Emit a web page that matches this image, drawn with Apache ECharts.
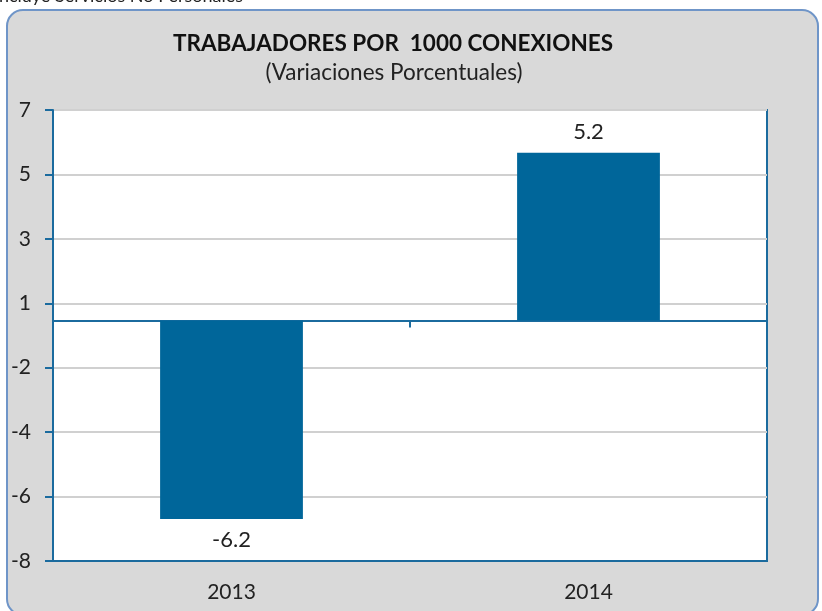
<!DOCTYPE html>
<html>
<head>
<meta charset="utf-8">
<script src="https://cdn.jsdelivr.net/npm/echarts@6/dist/echarts.min.js"></script>
<style>
html,body{margin:0;padding:0;background:#ffffff;}
#chart{width:822px;height:611px;}
</style>
</head>
<body>
<div id="chart"></div>
<script>
// ---- data ----
const categories = ['2013', '2014'];
const values = [-6.6, 5.58];
const dataLabels = ['-6.2', '5.2'];
const yMin = -8;
const yMax = 7;
const yTickCount = 7; // number of intervals
const titleText = 'TRABAJADORES POR  1000 CONEXIONES';
const subtitleText = '(Variaciones Porcentuales)';
const noteText = 'Incluye Servicios No Personales';

const FONT = 'Lato';
const BLUE = '#1b6b9e';
const BAR = '#00669a';

const chart = echarts.init(document.getElementById('chart'), null, {renderer: 'canvas'});

const option = {
  animation: false,
  backgroundColor: '#ffffff',
  textStyle: {fontFamily: FONT},
  graphic: [
    {
      type: 'rect', z: -10, silent: true,
      shape: {x: 7, y: 10, width: 811, height: 605, r: 16},
      style: {fill: '#d9d9d9', stroke: '#6f95c8', lineWidth: 2}
    },
    {
      type: 'text', z: 10, silent: true, x: -6, y: 5,
      style: {text: noteText, font: '18px ' + FONT, fill: '#222', textVerticalAlign: 'bottom'}
    },
    {
      type: 'text', z: 10, silent: true, x: 393, y: 44,
      style: {text: titleText, font: 'bold 22.5px ' + FONT, fill: '#111', align: 'center', verticalAlign: 'middle'}
    },
    {
      type: 'text', z: 10, silent: true, x: 394, y: 73,
      style: {text: subtitleText, font: '22.5px ' + FONT, fill: '#222', align: 'center', verticalAlign: 'middle'}
    }
  ],
  grid: {
    left: 53, top: 110, right: 55, bottom: 50,
    show: true, backgroundColor: '#ffffff', borderColor: BLUE, borderWidth: 2
  },
  xAxis: [
    {
      type: 'category', data: categories, position: 'bottom',
      axisLine: {show: false, onZero: false},
      axisTick: {show: false},
      axisLabel: {fontSize: 21, color: '#222', margin: 21, fontFamily: FONT}
    },
    {
      type: 'category', data: categories, position: 'top',
      axisLine: {show: true, onZero: true, lineStyle: {color: BLUE, width: 2}},
      axisTick: {show: true, inside: true, length: 7, lineStyle: {color: BLUE, width: 2}},
      axisLabel: {show: false}
    }
  ],
  yAxis: {
    type: 'value', min: yMin, max: yMax, interval: (yMax - yMin) / yTickCount,
    axisLine: {show: true, lineStyle: {color: BLUE, width: 2}},
    axisTick: {show: true, length: 8, lineStyle: {color: BLUE, width: 2}},
    axisLabel: {
      fontSize: 21, color: '#222', margin: 22, fontFamily: FONT,
      formatter: v => String(Math.round(v))
    },
    splitLine: {show: true, showMinLine: false, showMaxLine: false, lineStyle: {color: '#d0d0d0', width: 2}}
  },
  series: [{
    type: 'bar', xAxisIndex: 0, barWidth: '40%',
    itemStyle: {color: BAR},
    data: values.map((v, i) => ({
      value: v,
      label: {position: v >= 0 ? 'top' : 'bottom'}
    })),
    label: {
      show: true, distance: 10, fontSize: 22, color: '#222', fontFamily: FONT,
      formatter: p => dataLabels[p.dataIndex]
    }
  }]
};
chart.setOption(option);
</script>
</body>
</html>
